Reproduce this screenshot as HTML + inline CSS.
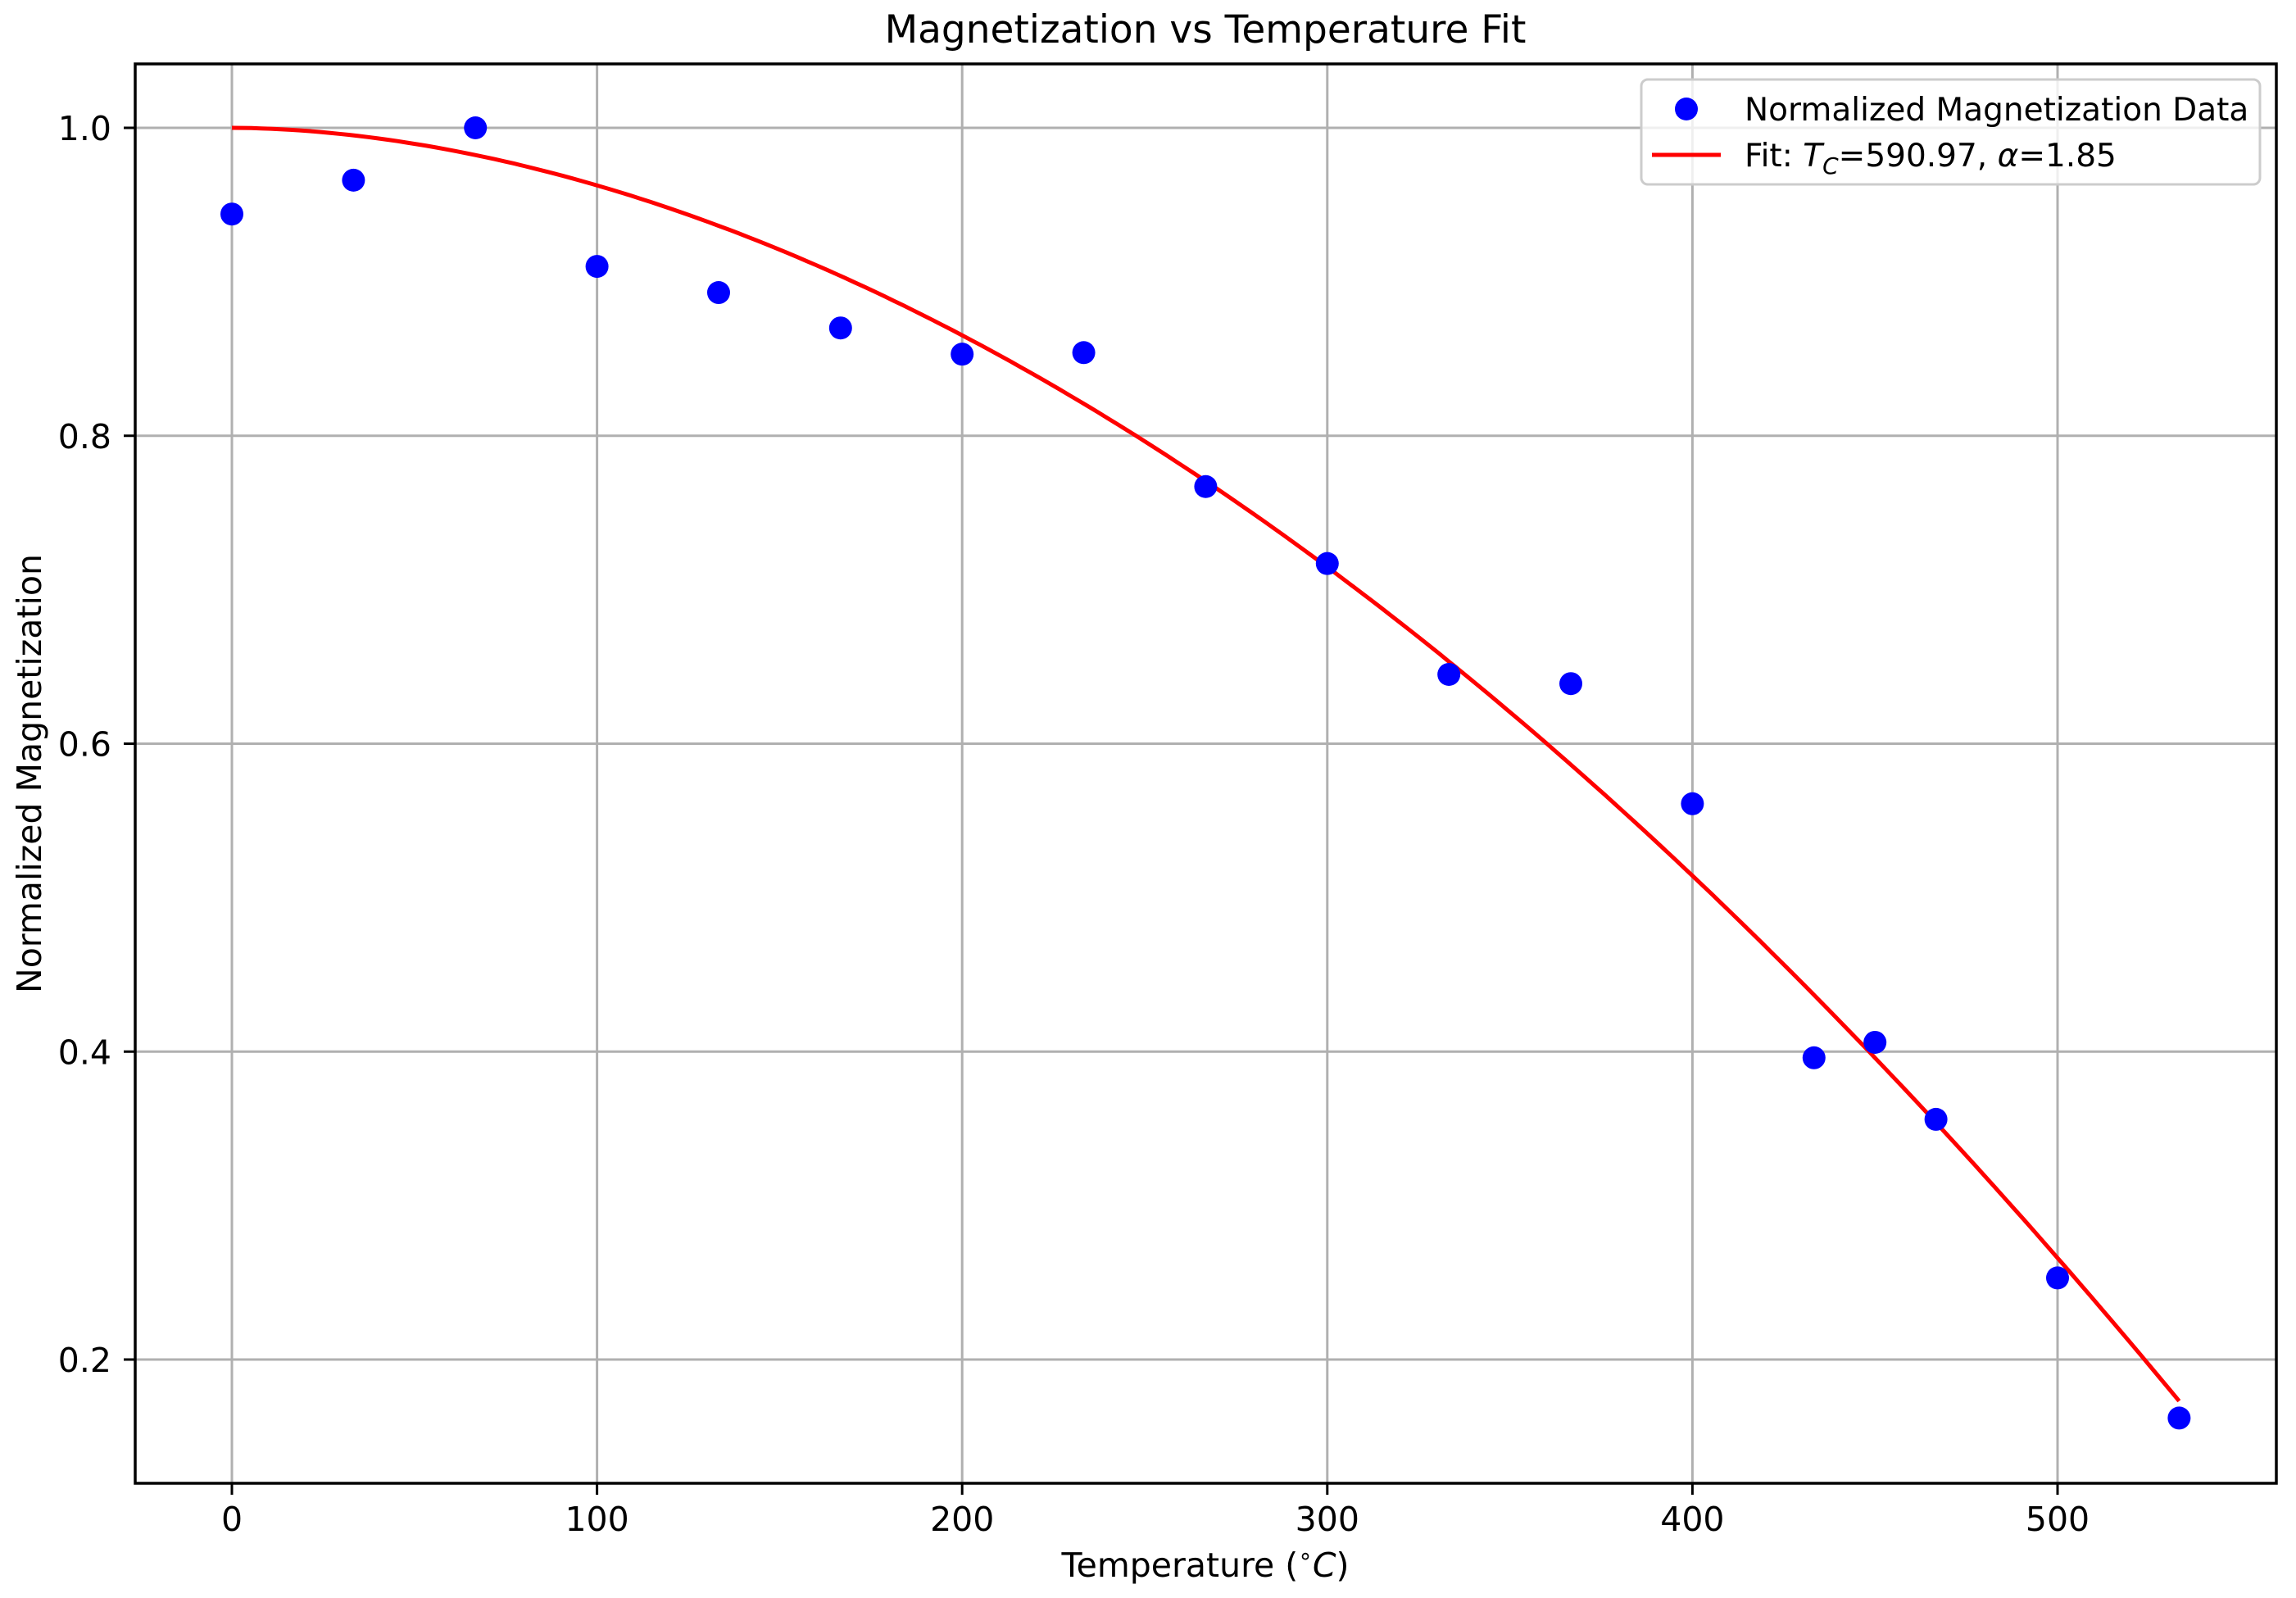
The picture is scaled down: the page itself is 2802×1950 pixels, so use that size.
<!DOCTYPE html>
<html><head><meta charset="utf-8"><style>
html,body{margin:0;padding:0;background:#fff;}
svg{display:block;font-family:"DejaVu Sans","Liberation Sans",sans-serif;}
</style></head><body>
<svg id="chart" width="2802" height="1950" viewBox="0 0 2802 1950" xmlns="http://www.w3.org/2000/svg">
<rect width="2802" height="1950" fill="#fff"/>
<text x="1471" y="52" font-size="47" text-anchor="middle" fill="#000">Magnetization vs Temperature Fit</text>
<g id="grid"></g><g id="fit"></g><g id="pts"></g>
<rect x="165" y="78" width="2613" height="1732" fill="none" stroke="#000" stroke-width="3.5"/>
<g id="ticks"></g>
<text x="1471" y="1924" font-size="41" text-anchor="middle">Temperature (<tspan baseline-shift="super" font-size="28">∘</tspan><tspan font-style="italic">C</tspan>)</text>
<text transform="translate(50,944) rotate(-90)" font-size="41" text-anchor="middle">Normalized Magnetization</text>
<g>
<rect x="2003" y="97" width="755" height="128" rx="8" fill="#fff" fill-opacity="0.8" stroke="#ccc" stroke-width="3"/>
<circle cx="2058" cy="133" r="14" fill="#0000ff"/>
<text x="2129" y="147" font-size="39">Normalized Magnetization Data</text>
<line x1="2016" y1="189" x2="2100" y2="189" stroke="#ff0000" stroke-width="5"/>
<text x="2129" y="203" font-size="39">Fit: <tspan font-style="italic">T</tspan><tspan font-style="italic" font-size="28" dy="9">C</tspan><tspan dy="-9">=590.97, </tspan><tspan font-style="italic">α</tspan>=1.85</text>
</g>
</svg>
<script>
const temps=[0,33.3,66.7,100,133.3,166.7,200,233.3,266.7,300,333.3,366.7,400,433.3,450,466.7,500,533.3];
const mags=[0.944,0.966,1.0,0.910,0.893,0.870,0.853,0.854,0.767,0.717,0.645,0.639,0.561,0.396,0.406,0.356,0.253,0.162];
const fitTc=590.97;
const fitAlpha=1.85;
const xTicks=[0,100,200,300,400,500];
const yTicks=[0.2,0.4,0.6,0.8,1.0];
const NS="http://www.w3.org/2000/svg";
const X=v=>283+(v-0)*(2511-283)/500;
const Y=v=>156+(1.0-v)*(1659-156)/0.8;
function mk(tag,attrs,parent){const e=document.createElementNS(NS,tag);for(const k in attrs)e.setAttribute(k,attrs[k]);document.getElementById(parent).appendChild(e);return e;}
xTicks.forEach(t=>{
 const g=mk('line',{x1:X(t),x2:X(t),y1:78,y2:1810,stroke:'#b0b0b0','stroke-width':3},'grid');
 
 
 const tk=mk('line',{x1:X(t),x2:X(t),y1:1810,y2:1824,stroke:'#000','stroke-width':3},'ticks');
 
 
 const lb=mk('text',{x:X(t),y:1868,'font-size':41,'text-anchor':'middle'},'ticks');
 lb.textContent=String(t);
 
 
});
yTicks.forEach(t=>{
 const g=mk('line',{x1:165,x2:2778,y1:Y(t),y2:Y(t),stroke:'#b0b0b0','stroke-width':3},'grid');
 
 
 const tk=mk('line',{x1:151,x2:165,y1:Y(t),y2:Y(t),stroke:'#000','stroke-width':3},'ticks');
 
 
 const lb=mk('text',{x:136,y:Y(t)+15,'font-size':41,'text-anchor':'end'},'ticks');
 lb.textContent=t.toFixed(1);
 
 
});
const tMax=temps[temps.length-1];
let d='';
for(let i=0;i<=200;i++){const t=tMax*i/200;const m=1-Math.pow(t/fitTc,fitAlpha);d+=(i?'L':'M')+X(t).toFixed(1)+','+Y(m).toFixed(1);}
const fl=mk('path',{d:d,fill:'none',stroke:'#ff0000','stroke-width':5},'fit');


temps.forEach((t,i)=>{
 const c=mk('circle',{cx:X(t),cy:Y(mags[i]),r:14,fill:'#0000ff'},'pts');
 
 
});
</script>
</body></html>
